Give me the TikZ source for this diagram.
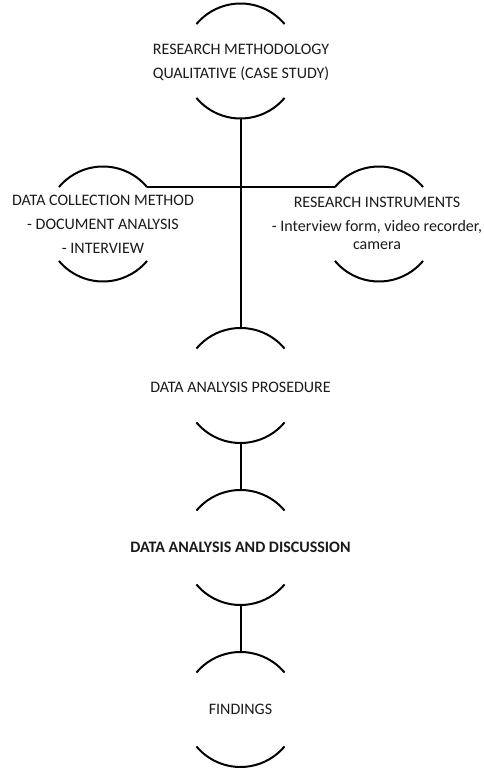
\documentclass[tikz,border=0pt]{standalone}
\usepackage{fontspec}
\setmainfont{Carlito}
\usetikzlibrary{calc}
\definecolor{ink}{HTML}{000000}
\definecolor{txt}{HTML}{1A1A1A}
\tikzset{
  ring/.style={circle, minimum size=86.25pt, inner sep=0pt, outer sep=0pt},
  ringArc/.style={draw=ink, line width=1.5pt},
  link/.style={draw=ink, line width=1.5pt},
  lbl/.style={text=txt, align=center, inner sep=0pt, font=\fontsize{12}{18}\selectfont},
  boldLbl/.style={lbl, font=\fontsize{12}{18}\selectfont\bfseries},
}
\newcommand{\RingArcs}[1]{%
  \draw[ringArc] (#1.40) arc[start angle=40, end angle=140, radius=57.5];
  \draw[ringArc] (#1.220) arc[start angle=220, end angle=320, radius=57.5];
}

\begin{document}
\begin{tikzpicture}[x=0.75pt, y=0.75pt]
  \useasboundingbox (0,0) rectangle (484,768);

  % rings
  \node[ring] (meth) at (240.5,707)   {};
  \node[ring] (coll) at (103,544)     {};
  \node[ring] (inst) at (379,544)     {};
  \node[ring] (proc) at (240.5,382.5) {};
  \node[ring] (disc) at (240.5,220.5) {};
  \node[ring] (find) at (240.5,58.5)  {};

  \RingArcs{meth}
  \RingArcs{coll}
  \RingArcs{inst}
  \RingArcs{proc}
  \RingArcs{disc}
  \RingArcs{find}

  % links
  \draw[link] (meth.south) -- (proc.north);
  \draw[link] (coll.40) -- (inst.140);
  \draw[link] (proc.south) -- (disc.north);
  \draw[link] (disc.south) -- (find.north);

  % labels
  \node[lbl] (methTxt) at (241,706) {RESEARCH METHODOLOGY\\QUALITATIVE (CASE STUDY)};
  \node[lbl] (collTxt) at (103,544) {DATA COLLECTION METHOD\\- DOCUMENT ANALYSIS\\- INTERVIEW};
  \node[lbl] (instTxt) at (377,545) {RESEARCH INSTRUMENTS\\- Interview form, video recorder,\\[-4.5pt]camera};
  \node[lbl] (procTxt) at (240.5,381) {DATA ANALYSIS PROSEDURE};
  \node[boldLbl] (discTxt) at (240.5,221) {DATA ANALYSIS AND DISCUSSION};
  \node[lbl] (findTxt) at (240.5,59) {FINDINGS};
\end{tikzpicture}
\end{document}
